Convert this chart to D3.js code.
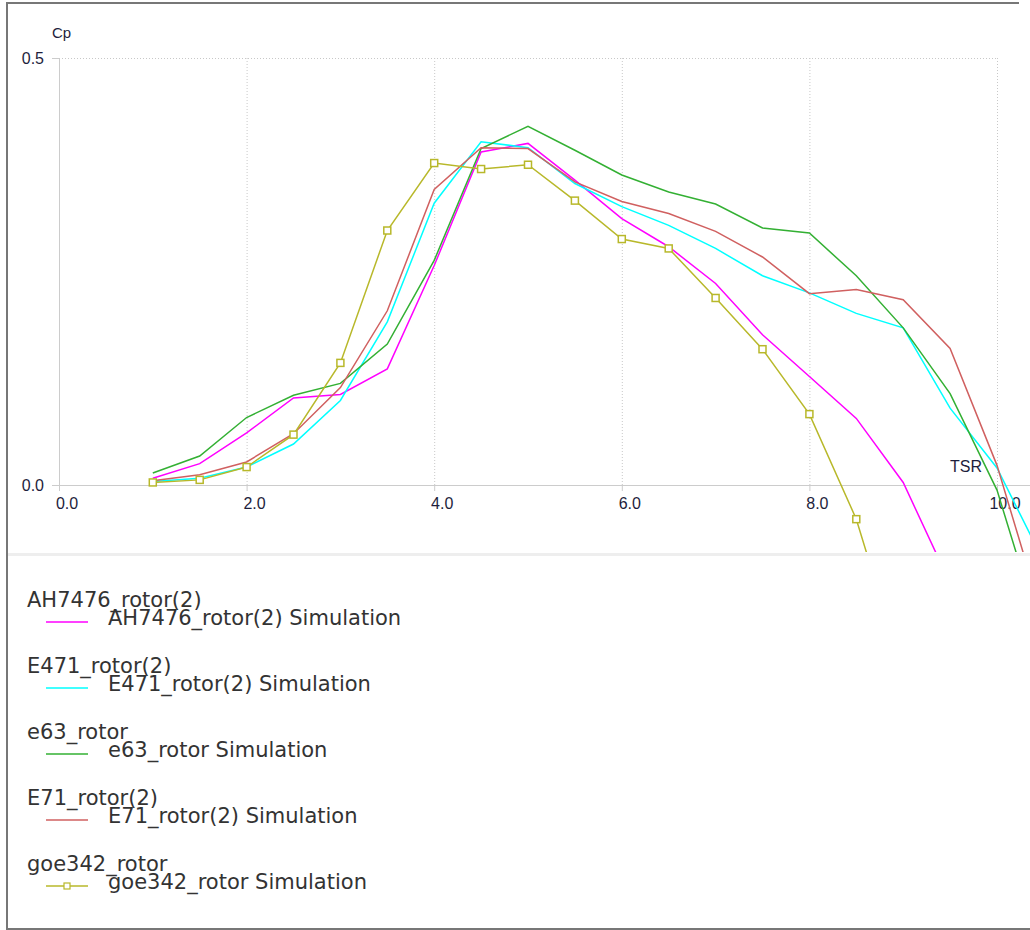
<!DOCTYPE html>
<html>
<head>
<meta charset="utf-8">
<script src="https://cdn.jsdelivr.net/npm/d3@7"></script>
<style>
  body { margin: 0; background: #fff; }
  svg { display: block; }
</style>
</head>
<body>
<script>
  // tip speed ratio samples
  var tsr = [1.0, 1.5, 2.0, 2.5, 3.0, 3.5, 4.0, 4.5, 5.0, 5.5, 6.0, 6.5, 7.0, 7.5, 8.0, 8.5, 9.0, 9.5, 10.0, 10.5];

  // Cp per rotor
  var ah7476 = [0.008, 0.025, 0.061, 0.102, 0.106, 0.136, 0.257, 0.390, 0.400, 0.357, 0.312, 0.279, 0.236, 0.176, 0.127, 0.078, 0.003, -0.115];
  var e471 = [0.004, 0.008, 0.021, 0.048, 0.099, 0.191, 0.330, 0.402, 0.395, 0.353, 0.326, 0.304, 0.277, 0.245, 0.225, 0.201, 0.184, 0.090, 0.020, -0.090];
  var e63 = [0.014, 0.034, 0.079, 0.105, 0.119, 0.165, 0.263, 0.394, 0.420, 0.392, 0.363, 0.343, 0.329, 0.301, 0.295, 0.245, 0.184, 0.107, -0.006, -0.185];
  var e71 = [0.005, 0.012, 0.027, 0.060, 0.114, 0.204, 0.346, 0.395, 0.394, 0.355, 0.332, 0.318, 0.297, 0.267, 0.224, 0.229, 0.217, 0.160, 0.023, -0.160];
  var goe342 = [0.003, 0.006, 0.021, 0.059, 0.143, 0.298, 0.377, 0.370, 0.375, 0.333, 0.288, 0.277, 0.219, 0.159, 0.083, -0.040, -0.220];

  var names = ["AH7476_rotor(2)", "E471_rotor(2)", "e63_rotor", "E71_rotor(2)", "goe342_rotor"];
  var colors = ["#ff00ff", "#00ffff", "#33b033", "#d06060", "#b8b82a"];
  var xTicks = [0, 2, 4, 6, 8, 10];
  var yTicks = [0, 0.5];

  var series = [ah7476, e471, e63, e71, goe342].map(function(vals, i) {
    return {
      name: names[i],
      color: colors[i],
      marker: i == 4,
      points: vals.map(function(v, j) { return { x: tsr[j], y: v }; })
    };
  });

  var svg = d3.select('body').append('svg')
    .attr('width', 1030)
    .attr('height', 930);

  var x = d3.scaleLinear().domain([0, 10]).range([59, 997]);
  var y = d3.scaleLinear().domain([0, 0.5]).range([485, 58]);
  var xAxisScale = x.copy().domain([0, x.invert(1030)]).range([59, 1030]);

  // frame
  svg.append('line').attr('x1', 7).attr('x2', 7).attr('y1', 3).attr('y2', 929)
    .attr('stroke', '#777').attr('stroke-width', 2);
  svg.append('line').attr('x1', 6).attr('x2', 1019).attr('y1', 3).attr('y2', 3)
    .attr('stroke', '#777').attr('stroke-width', 2);
  svg.append('line').attr('x1', 6).attr('x2', 1030).attr('y1', 929).attr('y2', 929)
    .attr('stroke', '#777').attr('stroke-width', 2);

  // separator between plot and legend
  svg.append('rect').attr('x', 8).attr('y', 553).attr('width', 1022).attr('height', 3)
    .attr('fill', '#eeeeee');

  // dotted grid
  svg.append('g').selectAll('line.vg')
    .data(xTicks.slice(1))
    .enter()
    .append('line')
      .attr('x1', function(d) { return x(d) + 0.5; })
      .attr('x2', function(d) { return x(d) + 0.5; })
      .attr('y1', y(0.5))
      .attr('y2', y(0))
      .attr('stroke', '#c8c8c8')
      .attr('stroke-dasharray', '1,2');
  svg.append('line')
    .attr('x1', x(0)).attr('x2', x(10))
    .attr('y1', y(0.5) + 0.5).attr('y2', y(0.5) + 0.5)
    .attr('stroke', '#c8c8c8')
    .attr('stroke-dasharray', '1,2');

  // axes
  var xAxis = svg.append('g')
    .attr('transform', 'translate(0,' + y(0) + ')')
    .call(d3.axisBottom(xAxisScale).tickValues(xTicks).tickFormat(d3.format('.1f'))
      .tickSize(6).tickSizeOuter(0).tickPadding(7));
  var yAxis = svg.append('g')
    .attr('transform', 'translate(' + x(0) + ',0)')
    .call(d3.axisLeft(y).tickValues(yTicks).tickFormat(d3.format('.1f'))
      .tickSize(7).tickSizeOuter(0).tickPadding(8));

  [xAxis, yAxis].forEach(function(g) {
    g.select('.domain').attr('stroke', '#cccccc');
    g.selectAll('.tick line').attr('stroke', '#cccccc');
    g.selectAll('.tick text')
      .attr('fill', '#1e1e3c')
      .style('font-family', 'Liberation Sans')
      .style('font-size', '16px');
  });
  // labels sit a little to the right of their ticks
  xAxis.selectAll('.tick text').attr('dx', 7.5);

  svg.append('text').attr('x', 52).attr('y', 38).text('Cp')
    .attr('fill', '#1e1e3c').style('font-family', 'Liberation Sans').style('font-size', '15px');
  svg.append('text').attr('x', 982).attr('y', 472).attr('text-anchor', 'end').text('TSR')
    .attr('fill', '#1e1e3c').style('font-family', 'Liberation Sans').style('font-size', '16px');

  // curves
  svg.append('clipPath').attr('id', 'plotclip')
    .append('rect').attr('x', 59).attr('y', 20).attr('width', 1030 - 59).attr('height', 552 - 20);

  var line = d3.line()
    .x(function(d) { return x(d.x); })
    .y(function(d) { return y(d.y); });

  var plot = svg.append('g').attr('clip-path', 'url(#plotclip)');

  plot.selectAll('path.curve')
    .data(series)
    .enter()
    .append('path')
      .attr('d', function(d) { return line(d.points); })
      .attr('fill', 'none')
      .attr('stroke', function(d) { return d.color; })
      .attr('stroke-width', 1.5);

  var withMarkers = series.filter(function(d) { return d.marker; });
  withMarkers.forEach(function(s) {
    plot.selectAll(null)
      .data(s.points)
      .enter()
      .append('rect')
        .attr('x', function(d) { return x(d.x) - 3.5; })
        .attr('y', function(d) { return y(d.y) - 3.5; })
        .attr('width', 7)
        .attr('height', 7)
        .attr('fill', '#fff')
        .attr('stroke', s.color)
        .attr('stroke-width', 1.5);
  });

  // legend
  var legend = svg.append('g')
    .style('font-family', 'DejaVu Sans')
    .style('font-size', '21px');

  var item = legend.selectAll('g')
    .data(series)
    .enter()
    .append('g')
      .attr('transform', function(d, i) { return 'translate(0,' + (66 * i) + ')'; });

  item.append('text').attr('x', 27).attr('y', 607).attr('fill', '#333')
    .text(function(d) { return d.name; });
  item.append('line').attr('x1', 46).attr('x2', 88).attr('y1', 622).attr('y2', 622)
    .attr('stroke', function(d) { return d.color; })
    .attr('stroke-width', 1.5);
  item.filter(function(d) { return d.marker; })
    .append('rect').attr('x', 64).attr('y', 619).attr('width', 6).attr('height', 6)
    .attr('fill', '#fff')
    .attr('stroke', function(d) { return d.color; })
    .attr('stroke-width', 1.2);
  item.append('text').attr('x', 108).attr('y', 625).attr('fill', '#333')
    .text(function(d) { return d.name + ' Simulation'; });
</script>
</body>
</html>
